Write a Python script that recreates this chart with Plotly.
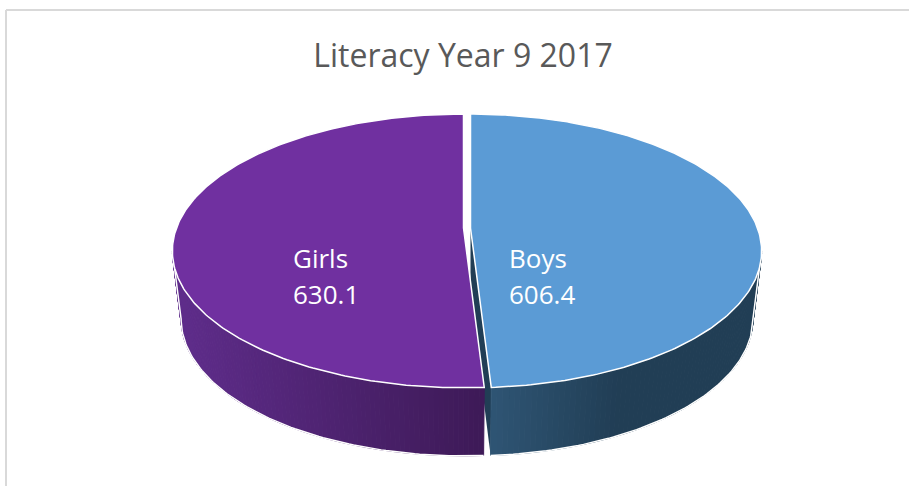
import numpy as np
import plotly.graph_objects as go

title = "Literacy Year 9 2017"
names = ["Boys", "Girls"]
values = [606.4, 630.1]
top_colors = ["#5B9BD5", "#7030A0"]
side_left = ["#2F5575", "#5E2C8A"]
side_right = ["#213E55", "#3E1A58"]
label_x = [507, 291]
name_y = 258
value_y = 294

# picture of the tilted disc, in pixels
centers = [470.5, 463.5]
half_w = 287
half_h = 133
tilt = 0.1678
apex_y = 228
depth = 68
bottom_scale = 0.97


def rim(cx, theta, scale=1.0, drop=0):
    # theta runs clockwise from the back of the disc
    u, v = np.sin(theta), np.cos(theta)
    w = 1 + tilt * v
    return cx + half_w * scale * u / w, apex_y + drop - half_h * v / w


def mix(a, b, t):
    a = [int(a[i:i + 2], 16) for i in (1, 3, 5)]
    b = [int(b[i:i + 2], 16) for i in (1, 3, 5)]
    return "rgb(%d,%d,%d)" % tuple(round(p + (q - p) * t) for p, q in zip(a, b))


total = sum(values)
cut = 2 * np.pi * values[0] / total
spans = [(0, cut), (cut, 2 * np.pi)]
# where the disc is widest, as seen from the front
widest = np.arccos(-tilt)

fig = go.Figure()


def poly(x, y, fill, line=None, width=0):
    fig.add_trace(go.Scatter(
        x=x, y=y, mode="lines", fill="toself", fillcolor=fill,
        line=dict(color=line or fill, width=width),
        hoverinfo="skip", showlegend=False,
    ))


for i in range(2):
    cx = centers[i]
    start, end = spans[i]

    # inner wall of the boys slice, seen through the gap
    if i == 0:
        ex, ey = rim(cx, end)
        lx, ly = rim(cx, end, bottom_scale, depth)
        poly([cx, ex, lx, cx], [apex_y, ey, ly, apex_y + depth], side_right[0])

    # outer wall, cut in thin strips for the shading
    if i == 0:
        edges = np.linspace(widest, end, 80)
    else:
        edges = np.linspace(start, 2 * np.pi - widest, 100)
    for a, b in zip(edges[:-1], edges[1:]):
        x0, y0 = rim(cx, a)
        x1, y1 = rim(cx, b)
        x2, y2 = rim(cx, b, bottom_scale, depth)
        x3, y3 = rim(cx, a, bottom_scale, depth)
        if i == 0:
            t = np.clip((x0 - 490) / 130, 0, 1)
            color = mix(side_left[0], side_right[0], t)
        else:
            t = np.clip((x0 - 180) / 300, 0, 1)
            color = mix(side_left[1], side_right[1], t)
        poly([x0, x1, x2, x3, x0], [y0, y1, y2, y3, y0], color, width=1)

    bx, by = rim(cx, edges, bottom_scale, depth)
    # outline round the wall, up to the rim at the widest point
    tip = widest if i == 0 else 2 * np.pi - widest
    tx, ty = rim(cx, tip)
    if i == 0:
        bx, by = np.concatenate([[tx], bx]), np.concatenate([[ty], by])
    else:
        bx, by = np.concatenate([bx, [tx]]), np.concatenate([by, [ty]])
    fig.add_trace(go.Scatter(
        x=bx, y=by, mode="lines", line=dict(color="#ffffff", width=1.5),
        hoverinfo="skip", showlegend=False,
    ))

    # top face
    arc = np.linspace(start, end, 240)
    ax, ay = rim(cx, arc)
    px = np.concatenate([[cx], ax, [cx]])
    py = np.concatenate([[apex_y], ay, [apex_y]])
    poly(px, py, top_colors[i], "#ffffff", 1.5)

# frame of the chart area, open on the right and at the bottom
fig.add_shape(type="line", x0=6, x1=909, y0=10, y1=10, line=dict(color="#D9D9D9", width=2))
fig.add_shape(type="line", x0=6, x1=6, y0=10, y1=486, line=dict(color="#D9D9D9", width=2))

for i in range(2):
    for text, y in ((names[i], name_y), (values[i], value_y)):
        fig.add_annotation(
            x=label_x[i], y=y, text=str(text),
            showarrow=False, xanchor="left", yanchor="middle",
            font=dict(color="#ffffff", size=26, family="Open Sans"),
        )

fig.update_layout(
    title=dict(
        text=title, x=463 / 909, xanchor="center", y=1 - 56 / 486, yanchor="middle",
        font=dict(color="#595959", size=32, family="Open Sans"),
    ),
    width=909,
    height=486,
    margin=dict(l=0, r=0, t=0, b=0),
    paper_bgcolor="#ffffff",
    plot_bgcolor="#ffffff",
    xaxis=dict(range=[0, 909], visible=False, fixedrange=True),
    yaxis=dict(range=[486, 0], visible=False, fixedrange=True),
)

fig.write_html(
    "out.html",
    config=dict(displayModeBar=False),
    post_script="document.body.style.margin = '0';",
)
